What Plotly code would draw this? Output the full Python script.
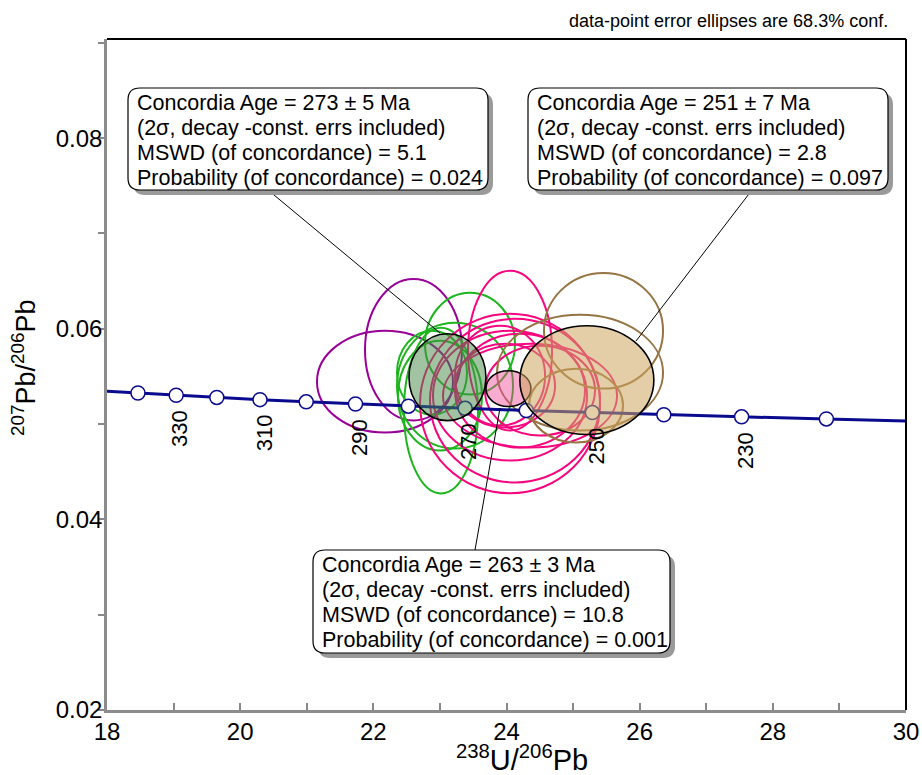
import plotly.graph_objects as go

# ---------------- data ----------------
conc_age = [340, 330, 320, 310, 300, 290, 280, 270, 260, 250, 240, 230, 220]
conc_x = [18.465, 19.039, 19.649, 20.298, 20.992, 21.732, 22.527, 23.379,
          24.297, 25.289, 26.363, 27.531, 28.804]
conc_y = [0.053261, 0.053027, 0.052793, 0.052562, 0.052333, 0.052102, 0.051876,
          0.051650, 0.051425, 0.051203, 0.050980, 0.050759, 0.050540]
conc_end_x = [18.0, 30.0]
conc_end_y = [0.053451, 0.050334]
label_ages = [330, 310, 290, 270, 250, 230]

# data-point error ellipses: centre x, centre y, semi-axis x, semi-axis y
purple_x = [22.603, 22.175]
purple_y = [0.05780, 0.05445]
purple_sx = [0.728, 1.021]
purple_sy = [0.00743, 0.00534]

green_x = [23.452, 23.016, 23.227, 23.001, 22.881]
green_y = [0.05843, 0.05141, 0.05403, 0.05298, 0.05539]
green_sx = [0.676, 0.556, 0.871, 0.631, 0.526]
green_sy = [0.00534, 0.00869, 0.00660, 0.00576, 0.00440]

pink_x = [24.053, 24.053, 24.128, 24.053, 24.203, 23.978, 24.503, 23.903, 24.353]
pink_y = [0.05770, 0.05215, 0.05246, 0.05298, 0.05351, 0.05403, 0.05351, 0.05508, 0.05298]
pink_sx = [0.631, 1.352, 1.277, 1.157, 0.976, 0.751, 0.826, 0.676, 1.307]
pink_sy = [0.00838, 0.00942, 0.00859, 0.00681, 0.00597, 0.00440, 0.00471, 0.00524, 0.00545]

brown_x = [25.457, 25.104, 25.044]
brown_y = [0.05979, 0.05539, 0.05194]
brown_sx = [0.894, 1.247, 0.706]
brown_sy = [0.00607, 0.00607, 0.00387]

# concordia-age (mean) ellipses
mean_x = [23.113, 24.029, 25.207]
mean_y = [0.05492, 0.05372, 0.05461]
mean_sx = [0.578, 0.338, 1.006]
mean_sy = [0.004555, 0.00188, 0.005707]

box_ages = ["273 ± 5", "251 ± 7", "263 ± 3"]
box_mswd = ["5.1", "2.8", "10.8"]
box_prob = ["0.024", "0.097", "0.001"]

x_ticks = [18, 20, 22, 24, 26, 28, 30]
y_ticks = [0.02, 0.04, 0.06, 0.08]

# ---------------- styling / layout ----------------
W, H = 922, 775
ML, MR, MT, MB = 107, 16, 39, 65
PW, PH = W - ML - MR, H - MT - MB
FONT = "Liberation Sans, Arial, sans-serif"


def px(xp):
    return (xp - ML) / PW


def py(yp):
    return (H - MB - yp) / PH


fig = go.Figure()

shapes = []


def add_ellipses(xs, ys, sxs, sys_, color):
    for cx, cy, sx, sy in zip(xs, ys, sxs, sys_):
        shapes.append(dict(type="circle", xref="x", yref="y",
                           x0=cx - sx, x1=cx + sx, y0=cy - sy, y1=cy + sy,
                           line=dict(color=color, width=2), layer="below"))


add_ellipses(purple_x, purple_y, purple_sx, purple_sy, "#990099")
add_ellipses(green_x, green_y, green_sx, green_sy, "#1db51d")
add_ellipses(pink_x, pink_y, pink_sx, pink_sy, "#f7077f")
add_ellipses(brown_x, brown_y, brown_sx, brown_sy, "#967342")

mean_fill = ["rgba(70,135,70,0.5)", "rgba(240,70,150,0.45)", "rgba(205,165,95,0.55)"]
for cx, cy, sx, sy, fc in zip(mean_x, mean_y, mean_sx, mean_sy, mean_fill):
    shapes.append(dict(type="circle", xref="x", yref="y",
                       x0=cx - sx, x1=cx + sx, y0=cy - sy, y1=cy + sy,
                       fillcolor=fc, line=dict(color="black", width=1.6),
                       layer="above"))

# concordia curve
fig.add_trace(go.Scatter(
    x=[conc_end_x[0]] + conc_x + [conc_end_x[1]],
    y=[conc_end_y[0]] + conc_y + [conc_end_y[1]],
    mode="lines", line=dict(color="#0a0a8f", width=3),
    hoverinfo="skip", showlegend=False))
fig.add_trace(go.Scatter(
    x=conc_x, y=conc_y, mode="markers",
    marker=dict(size=14, color="white", line=dict(color="#0a0a8f", width=1.5)),
    hoverinfo="skip", showlegend=False))

annotations = []
for a in label_ages:
    i = conc_age.index(a)
    annotations.append(dict(x=conc_x[i], y=conc_y[i], xref="x", yref="y",
                            text=str(a), showarrow=False, textangle=-90,
                            xanchor="center", yanchor="top", xshift=4, yshift=-13,
                            font=dict(family=FONT, size=22, color="black")))

# callout leader lines (pixel positions)
leaders = [((268, 190), (440, 333)), ((752, 190), (636, 341)), ((475, 550), (500, 408))]
for (x0, y0), (x1, y1) in leaders:
    shapes.append(dict(type="line", xref="paper", yref="paper",
                       x0=px(x0), y0=py(y0), x1=px(x1), y1=py(y1),
                       line=dict(color="black", width=1), layer="above"))


def rrect(x0, y0, x1, y1, r=12):
    rx, ry = r / PW, r / PH
    X0, X1, Y0, Y1 = px(x0), px(x1), py(y0), py(y1)  # Y0 top
    return (f"M {X0+rx},{Y0} L {X1-rx},{Y0} Q {X1},{Y0} {X1},{Y0-ry} "
            f"L {X1},{Y1+ry} Q {X1},{Y1} {X1-rx},{Y1} L {X0+rx},{Y1} "
            f"Q {X0},{Y1} {X0},{Y1+ry} L {X0},{Y0-ry} Q {X0},{Y0} {X0+rx},{Y0} Z")


boxes = [(128, 88, 488, 190), (528, 88, 888, 190), (313, 550, 670, 653)]
for k, (x0, y0, x1, y1) in enumerate(boxes):
    shapes.append(dict(type="path", xref="paper", yref="paper",
                       path=rrect(x0 + 5, y0 + 5, x1 + 5, y1 + 5),
                       fillcolor="#9a9a9a", line=dict(width=0), layer="above"))
    shapes.append(dict(type="path", xref="paper", yref="paper",
                       path=rrect(x0, y0, x1, y1),
                       fillcolor="white", line=dict(color="black", width=1.2),
                       layer="above"))
    lines = [f"Concordia Age = {box_ages[k]} Ma",
             "(2σ, decay -const. errs included)",
             f"MSWD (of concordance) = {box_mswd[k]}",
             f"Probability (of concordance) = {box_prob[k]}"]
    for j, t in enumerate(lines):
        annotations.append(dict(x=px(x0 + 7), y=py(y0 + 15 + 25 * j),
                                xref="paper", yref="paper",
                                text=t, showarrow=False, align="left",
                                xanchor="left", yanchor="middle",
                                font=dict(family=FONT, size=21.5, color="black")))

# frame top / right (black)
shapes.append(dict(type="line", xref="paper", yref="paper", x0=0, x1=1, y0=1, y1=1,
                   line=dict(color="black", width=2), layer="above"))
shapes.append(dict(type="line", xref="paper", yref="paper", x0=1, x1=1, y0=0, y1=1,
                   line=dict(color="black", width=2), layer="above"))

# titles
annotations.append(dict(x=px(24), y=py(368), xref="paper", yref="paper",
                        text="<sup>207</sup>Pb/<sup>206</sup>Pb", showarrow=False,
                        textangle=-90, xanchor="center", yanchor="middle",
                        font=dict(family=FONT, size=27, color="black")))
annotations.append(dict(x=px(522), y=py(758), xref="paper", yref="paper",
                        text="<sup>238</sup>U/<sup>206</sup>Pb", showarrow=False,
                        xanchor="center", yanchor="middle",
                        font=dict(family=FONT, size=29, color="black")))
annotations.append(dict(x=px(890), y=py(21), xref="paper", yref="paper",
                        text="data-point error ellipses are 68.3% conf.", showarrow=False,
                        xanchor="right", yanchor="middle",
                        font=dict(family=FONT, size=18, color="black")))

fig.update_layout(
    width=W, height=H, autosize=False,
    margin=dict(l=ML, r=MR, t=MT, b=MB, pad=0, autoexpand=False),
    paper_bgcolor="white", plot_bgcolor="white",
    shapes=shapes, annotations=annotations, showlegend=False,
    font=dict(family=FONT, color="black"),
    xaxis=dict(range=[18, 30], tickvals=x_ticks, ticktext=[str(v) for v in x_ticks],
               automargin=False,
               ticks="inside", ticklen=7, tickcolor="#888", tickwidth=1.5,
               minor=dict(dtick=1, tick0=18, ticks="inside", ticklen=7, tickcolor="#888"),
               showline=True, linecolor="#8c8c8c", linewidth=2.5,
               showgrid=False, zeroline=False, ticklabelstandoff=-2,
               tickfont=dict(family=FONT, size=24, color="black")),
    yaxis=dict(range=[0.02, 0.0904], tickvals=y_ticks,
               ticktext=[f"{v:.2f}" for v in y_ticks],
               automargin=False,
               ticks="outside", ticklen=6, tickcolor="#888", tickwidth=1.5,
               minor=dict(dtick=0.01, tick0=0.02, ticks="outside", ticklen=6, tickcolor="#888"),
               showline=True, linecolor="#8c8c8c", linewidth=2.5,
               showgrid=False, zeroline=False, ticklabelstandoff=-9,
               tickfont=dict(family=FONT, size=24, color="black")),
)

post = ("document.body.style.margin='0px';document.body.style.overflow='hidden';"
        "var gd=document.getElementById('{plot_id}');"
        "Plotly.relayout(gd,{width:922,height:775});")
fig.write_html("out.html", config={"displayModeBar": False, "responsive": False},
               post_script=post)
